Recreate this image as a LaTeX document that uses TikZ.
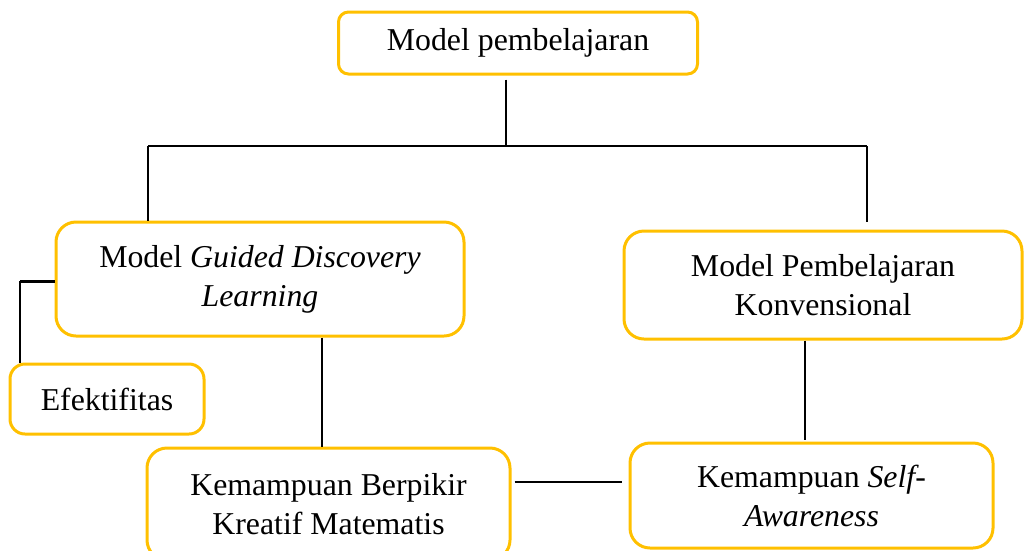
\documentclass[tikz,border=0pt]{standalone}
\usepackage{fontspec}
\setmainfont{Liberation Serif}
\definecolor{boxgold}{HTML}{FFC000}
\begin{document}
\begin{tikzpicture}[x=1pt,y=-1pt,
  box/.style={draw=boxgold, line width=3pt, align=center, inner sep=0pt,
    font=\fontsize{31.8}{39}\selectfont},
  link/.style={draw=black, line width=1.3pt},
  boldlink/.style={draw=black, line width=3pt}]
\useasboundingbox (0,0) rectangle (1024,550);
\node[box, rounded corners=10pt, minimum width=359pt, minimum height=62pt] (top) at (518,43) {\raisebox{-3pt}{Model pembelajaran}};
\node[box, rounded corners=20pt, minimum width=408pt, minimum height=114pt] (gdl) at (260,279) {Model \textit{Guided Discovery}\\\textit{Learning}};
\node[box, rounded corners=20pt, minimum width=398pt, minimum height=108pt] (konv) at (823,285) {Model Pembelajaran\\Konvensional};
\node[box, rounded corners=15pt, minimum width=194pt, minimum height=70pt] (efek) at (107,399) {Efektifitas};
\node[box, rounded corners=20pt, minimum width=363pt, minimum height=112pt] (kb) at (328.5,504) {Kemampuan Berpikir\\Kreatif Matematis};
\node[box, rounded corners=20pt, minimum width=363pt, minimum height=105pt] (sa) at (811.5,495.5) {Kemampuan {\itshape Self}-\\{\itshape Awareness}};
\coordinate (barm) at (506,146);
\coordinate (barl) at (148,146);
\coordinate (barr) at (867,146);
\coordinate (elbow) at (20,281);
\coordinate (gk) at (322,0);
\coordinate (ks) at (805,0);
\coordinate (hy) at (0,482);
\draw[link] ([yshift=-4pt]top.south -| barm) -- (barm);
\draw[link] (barl) -- (barr);
\draw[link] (barl) -- (barl |- gdl.north);
\draw[link] (barr) -- ([yshift=8pt]barr |- konv.north);
\draw[boldlink] (gdl.west |- elbow) -- (elbow);
\draw[link] (elbow) -- (elbow |- efek.north);
\draw[link] (gdl.south -| gk) -- (kb.north -| gk);
\draw[link] (konv.south -| ks) -- ([yshift=2pt]sa.north -| ks);
\draw[link] ([xshift=3pt]kb.east |- hy) -- ([xshift=-7pt]sa.west |- hy);
\end{tikzpicture}
\end{document}
